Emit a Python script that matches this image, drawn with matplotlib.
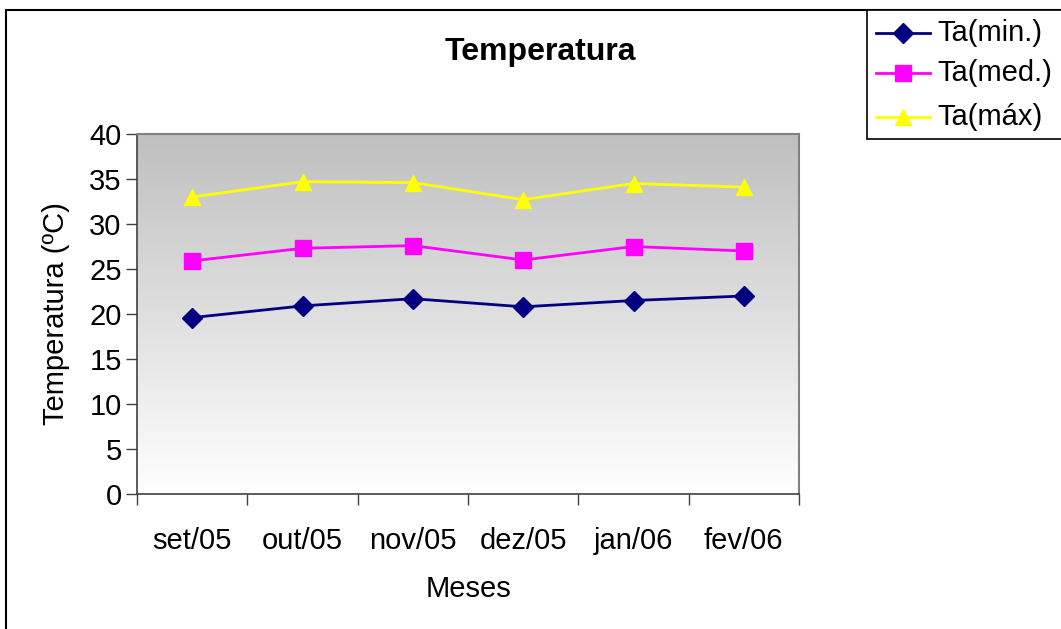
import numpy as np
import matplotlib
matplotlib.use("Agg")
import matplotlib.pyplot as plt
from matplotlib.patches import Rectangle
from matplotlib.lines import Line2D

plt.rcParams['font.family'] = ['Liberation Sans', 'DejaVu Sans']

meses = ["set/05", "out/05", "nov/05", "dez/05", "jan/06", "fev/06"]
ta_min = [19.6, 20.9, 21.7, 20.8, 21.5, 22.0]
ta_med = [25.9, 27.3, 27.6, 26.0, 27.5, 27.0]
ta_max = [33.0, 34.7, 34.6, 32.7, 34.5, 34.1]
y_ticks = [0, 5, 10, 15, 20, 25, 30, 35, 40]

FS = 21
W, H = 1061, 629
fig = plt.figure(figsize=(W / 100, H / 100), dpi=100)
fig.patch.set_facecolor("white")

# outer chart frame
fig.patches.append(Rectangle((6 / W, -0.05), 1.2, 1 - 10 / H + 0.05,
                             transform=fig.transFigure, fill=False,
                             edgecolor="black", linewidth=1.5, zorder=0))

left, right, top, bottom = 137, 799, 134, 494
ax = fig.add_axes([left / W, 1 - bottom / H, (right - left) / W, (bottom - top) / H])

x = np.arange(len(meses))
ax.set_xlim(-0.5, len(meses) - 0.5)

# gradient background of the plotting area: gray at top, white at bottom
grad = np.linspace(0.75, 1.0, 256).reshape(-1, 1)
ax.imshow(np.dstack([grad, grad, grad]), aspect="auto",
          extent=[-0.5, len(meses) - 0.5, 0, 40], origin="upper", zorder=0)
ax.set_ylim(0, 40)

l1, = ax.plot(x, ta_min, color="#000080", marker="D", markersize=10,
              linewidth=2, label="Ta(min.)", zorder=3)
l2, = ax.plot(x, ta_med, color="#ff00ff", marker="s", markersize=11,
              linewidth=2, label="Ta(med.)", zorder=3)
l3, = ax.plot(x, ta_max, color="#ffff00", marker="^", markersize=12,
              linewidth=2, label="Ta(máx)", zorder=3)

ax.set_yticks(y_ticks)
ax.set_yticklabels([str(v) for v in y_ticks], fontsize=FS)
ax.set_xticks(np.arange(len(meses) + 1) - 0.5)
ax.set_xticklabels([])
ax.set_xticks(x, minor=True)
ax.set_xticklabels(meses, minor=True, fontsize=FS)
ax.tick_params(axis="x", which="major", direction="out", length=8, width=1, color="#404040")
ax.tick_params(axis="x", which="minor", length=0, pad=24)
ax.tick_params(axis="y", direction="out", length=8, width=1, color="#404040", pad=3)

for s in ["left", "bottom"]:
    ax.spines[s].set_color("#404040")
    ax.spines[s].set_linewidth(1.2)
for s in ["top", "right"]:
    ax.spines[s].set_color("#808080")
    ax.spines[s].set_linewidth(1.5)

ax.set_ylabel("Temperatura (ºC)", fontsize=FS, labelpad=14)
ax.set_xlabel("Meses", fontsize=FS, labelpad=14)
fig.text(540 / W, 1 - 52 / H, "Temperatura", fontsize=23, fontweight="bold",
         ha="center", va="center")

# legend box
fig.patches.append(Rectangle((867 / W, 1 - 139 / H), 0.3, (139 - 10) / H,
                             transform=fig.transFigure, fill=True, facecolor="white",
                             edgecolor="black", linewidth=1.2, zorder=1))
rows = [33, 73, 117]
for line, yy in zip([l1, l2, l3], rows):
    yf = 1 - yy / H
    fig.lines.append(Line2D([876 / W, 930 / W], [yf, yf], transform=fig.transFigure,
                            color=line.get_color(), linewidth=2, zorder=2))
    fig.lines.append(Line2D([903 / W], [yf], transform=fig.transFigure,
                            color=line.get_color(), marker=line.get_marker(),
                            markersize=line.get_markersize(), linestyle="none", zorder=3))
    fig.text(937 / W, yf, line.get_label(), fontsize=FS, ha="left", va="center", zorder=3)

fig.savefig("out.png", dpi=100)
